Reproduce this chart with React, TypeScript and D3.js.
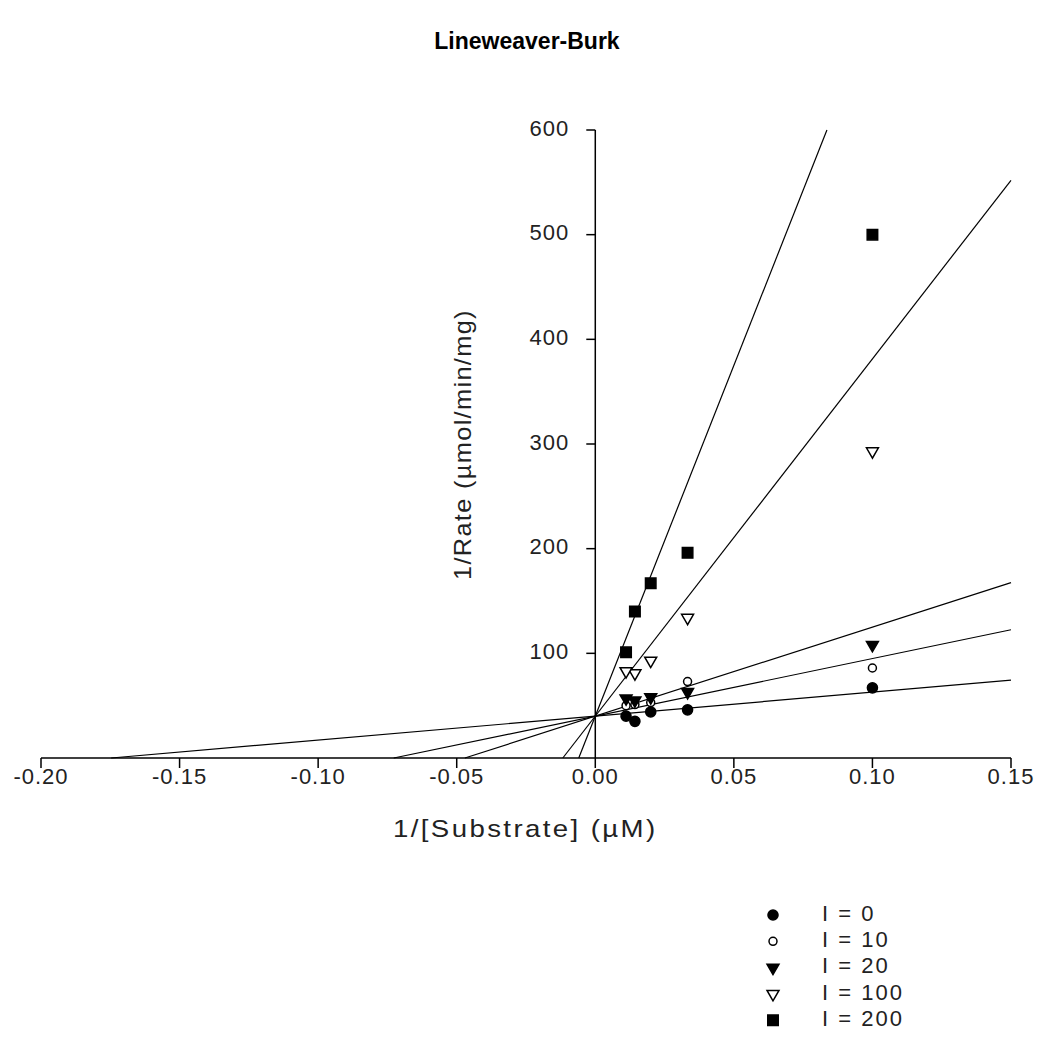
import React from 'react'
import * as d3 from 'd3'

// 1/[S] values (S = 10, 30, 50, 70, 90 µM)
const invSubstrate = [0.1, 0.0333, 0.02, 0.0143, 0.0111]

// 1/Rate per inhibitor level
const rateI0 = [67, 46, 44, 35, 40]
const rateI10 = [86, 73, 53, 51, 50]
const rateI20 = [108, 63, 58, 55, 57]
const rateI100 = [293, 134, 93, 81, 83]
const rateI200 = [500, 196, 167, 140, 101]

// fitted lines: shared 1/Vmax intercept, slope Km/Vmax per series
const fitIntercept = 40
const fitSlopes = [229, 550, 850, 3413, 6700]

const seriesNames = ['I = 0', 'I = 10', 'I = 20', 'I = 100', 'I = 200']
const seriesValues = [rateI0, rateI10, rateI20, rateI100, rateI200]

const xTicks = [-0.2, -0.15, -0.1, -0.05, 0, 0.05, 0.1, 0.15]
const yTicks = [100, 200, 300, 400, 500, 600]

const font = 'Arial, "Liberation Sans", sans-serif'
const textColor = '#222'

// marker style per series
const markers = [
  { type: d3.symbolCircle, size: 80, fill: '#000', rotate: 0 },
  { type: d3.symbolCircle, size: 50, fill: '#fff', rotate: 0 },
  { type: d3.symbolTriangle, size: 62, fill: '#000', rotate: 180 },
  { type: d3.symbolTriangle, size: 62, fill: '#fff', rotate: 180 },
  { type: d3.symbolSquare, size: 110, fill: '#000', rotate: 0 },
]

function Marker({ i, x, y }: { i: number; x: number; y: number }) {
  const m = markers[i]
  const d = d3.symbol().type(m.type).size(m.size)() as string
  return (
    <path
      d={d}
      transform={`translate(${x},${y}) rotate(${m.rotate})`}
      fill={m.fill}
      stroke="#000"
      strokeWidth={1.5}
    />
  )
}

export default function App() {
  const x = d3.scaleLinear().domain([-0.2, 0.15]).range([41, 1011])
  const y = d3.scaleLinear().domain([0, 600]).range([758, 130])

  const [x0, x1] = x.domain()
  const [y0, y1] = y.domain()

  // each fit line runs from its x-intercept to the plot edge
  const lines = fitSlopes.map(s => {
    const xStart = Math.max(x0, (y0 - fitIntercept) / s)
    const xEnd = Math.min(x1, (y1 - fitIntercept) / s)
    const line = d3.line<number>().x(v => x(v)).y(v => y(fitIntercept + s * v))
    return line([xStart, xEnd]) as string
  })

  const legendX = 773
  const legendY = 915
  const legendStep = 26.3

  return (
    <svg
      width={1040}
      height={1055}
      style={{ position: 'absolute', left: 0, top: 0, background: '#fff' }}
      fontFamily={font}
    >
      <text x={527} y={43} textAnchor="middle" dominantBaseline="middle" fontSize={23} fontWeight="bold">
        Lineweaver-Burk
      </text>

      {/* fitted lines */}
      {lines.map((d, i) => (
        <path key={i} d={d} fill="none" stroke="#000" strokeWidth={1.2} />
      ))}

      {/* x axis */}
      <line x1={x(x0)} x2={x(x1)} y1={y(0)} y2={y(0)} stroke="#000" strokeWidth={1.5} />
      {xTicks.map(t => (
        <g key={t}>
          <line x1={x(t)} x2={x(t)} y1={y(0)} y2={y(0) + 10} stroke="#000" strokeWidth={1.5} />
          <text
            x={x(t)}
            y={y(0) + 20}
            textAnchor="middle"
            dominantBaseline="middle"
            fontSize={22}
            letterSpacing={1}
            fill={textColor}
          >
            {d3.format('.2f')(t).replace('−', '-')}
          </text>
        </g>
      ))}

      {/* y axis */}
      <line x1={x(0)} x2={x(0)} y1={y(y0)} y2={y(y1)} stroke="#000" strokeWidth={1.5} />
      {yTicks.map(t => (
        <g key={t}>
          <line x1={x(0) - 9} x2={x(0)} y1={y(t)} y2={y(t)} stroke="#000" strokeWidth={1.5} />
          <text
            x={x(0) - 26}
            y={y(t)}
            textAnchor="end"
            dominantBaseline="middle"
            fontSize={22}
            letterSpacing={1}
            fill={textColor}
          >
            {t}
          </text>
        </g>
      ))}

      {/* axis titles, widened to match the bitmap font of the original */}
      <g transform="translate(393,831) scale(1.15,1)">
        <text
          dominantBaseline="middle"
          fontSize={24}
          textLength={228}
          lengthAdjust="spacing"
          fill={textColor}
        >
          1/[Substrate] (µM)
        </text>
      </g>
      <g transform="translate(465,580) rotate(-90) scale(1.1,1)">
        <text
          dominantBaseline="middle"
          fontSize={23}
          textLength={245}
          lengthAdjust="spacing"
          fill={textColor}
        >
          1/Rate (µmol/min/mg)
        </text>
      </g>

      {/* data points */}
      {seriesValues.map((vals, i) =>
        vals.map((v, j) => <Marker key={`${i}-${j}`} i={i} x={x(invSubstrate[j])} y={y(v)} />)
      )}

      {/* legend */}
      {seriesNames.map((name, i) => (
        <g key={name}>
          <Marker i={i} x={legendX} y={legendY + i * legendStep} />
          <text
            x={legendX + 49}
            y={legendY + i * legendStep}
            dominantBaseline="middle"
            fontSize={22}
            letterSpacing={2}
            fill={textColor}
          >
            {name}
          </text>
        </g>
      ))}
    </svg>
  )
}
